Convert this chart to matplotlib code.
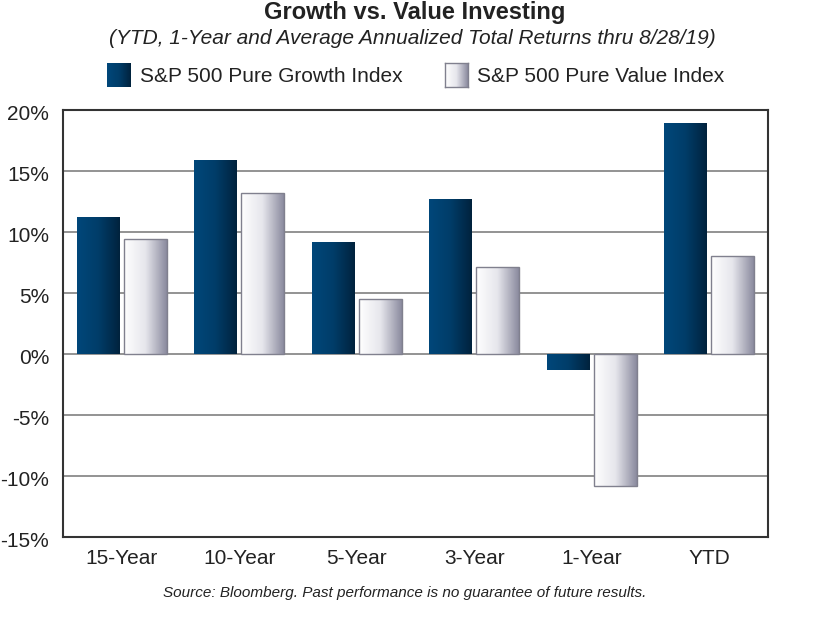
import matplotlib
matplotlib.use("Agg")
import matplotlib.pyplot as plt
import matplotlib.transforms as mtransforms
import numpy as np
from matplotlib.colors import LinearSegmentedColormap

categories = ["15-Year", "10-Year", "5-Year", "3-Year", "1-Year", "YTD"]
growth = [11.2, 15.9, 9.2, 12.7, -1.3, 18.9]
value = [9.4, 13.2, 4.5, 7.1, -10.8, 8.0]
y_ticks = [20, 15, 10, 5, 0, -5, -10, -15]
series_names = ["S&P 500 Pure Growth Index", "S&P 500 Pure Value Index"]

plt.rcParams['font.family'] = ['Liberation Sans', 'DejaVu Sans']

growth_cmap = LinearSegmentedColormap.from_list(
    "growth", ["#00477a", "#003d69", "#00223d"])
value_cmap = LinearSegmentedColormap.from_list(
    "value", ["#ffffff", "#e6e6ec", "#8a8a9e"])
GRAD = np.linspace(0, 1, 256).reshape(1, -1)


def fill_gradient(ax, bars, cmap, edge):
    """Paint a left-to-right gradient inside each bar."""
    for bar in bars:
        x0, y0 = bar.get_x(), bar.get_y()
        w, h = bar.get_width(), bar.get_height()
        img = ax.imshow(GRAD, cmap=cmap, aspect='auto',
                        extent=(x0, x0 + w, y0, y0 + h), zorder=2)
        img.set_clip_path(bar)
        bar.set_facecolor('none')
        bar.set_edgecolor(edge)
        bar.set_zorder(3)


def legend_swatch(fig, left_px, cmap, edge):
    """Small gradient square for the hand-made legend."""
    sw = fig.add_axes([left_px / 813, 1 - 87 / 628, 23 / 813, 24 / 628])
    sw.imshow(GRAD, cmap=cmap, aspect='auto')
    sw.set_xticks([])
    sw.set_yticks([])
    for side in sw.spines.values():
        side.set_color(edge)
        side.set_linewidth(1.0)
        side.set_visible(edge != 'none')


fig = plt.figure(figsize=(8.13, 6.28), dpi=100)
ax = fig.add_axes([0.0775, 0.145, 0.867, 0.68])

x = np.arange(len(categories))
width = 0.365
offset = 0.2
growth_bars = ax.bar(x - offset, growth, width, linewidth=0.8)
value_bars = ax.bar(x + offset, value, width, linewidth=1.0)
fill_gradient(ax, growth_bars, growth_cmap, 'none')
fill_gradient(ax, value_bars, value_cmap, '#80808e')

ax.set_xlim(-0.5, len(categories) - 0.5)
ax.set_ylim(-15, 20)
ax.set_yticks(y_ticks)
ax.set_yticklabels([f"{t}%" for t in y_ticks], fontsize=15)
ax.set_xticks(x)
ax.set_xticklabels(categories, fontsize=15)
ax.tick_params(axis='both', length=0, colors='#222222')
ax.tick_params(axis='x', pad=9)
ax.tick_params(axis='y', pad=10)
shift = mtransforms.ScaledTranslation(0, -0.025, fig.dpi_scale_trans)
for lab in ax.get_yticklabels():
    lab.set_transform(lab.get_transform() + shift)
ax.grid(axis='y', color='#808080', linewidth=1.2, zorder=1)
ax.set_axisbelow(True)
for side in ax.spines.values():
    side.set_color('#333333')
    side.set_linewidth(1.5)

fig.text(0.51, 1 - 12 / 628, "Growth vs. Value Investing", ha='center',
         va='center', fontsize=17, fontweight='bold', color='#222222')
fig.text(0.507, 1 - 39 / 628,
         "(YTD, 1-Year and Average Annualized Total Returns thru 8/28/19)",
         ha='center', va='center', fontsize=15, style='italic',
         color='#222222')

legend_swatch(fig, 107, growth_cmap, 'none')
legend_swatch(fig, 445, value_cmap, '#80808e')
fig.text(140 / 813, 1 - 76 / 628, series_names[0], ha='left', va='center',
         fontsize=15, color='#222222')
fig.text(477 / 813, 1 - 76 / 628, series_names[1], ha='left', va='center',
         fontsize=15, color='#222222')

fig.text(405 / 813, 1 - 593 / 628,
         "Source: Bloomberg. Past performance is no guarantee of future results.",
         ha='center', va='center', fontsize=11, style='italic', color='#222222')

fig.savefig("out.png", dpi=100)
